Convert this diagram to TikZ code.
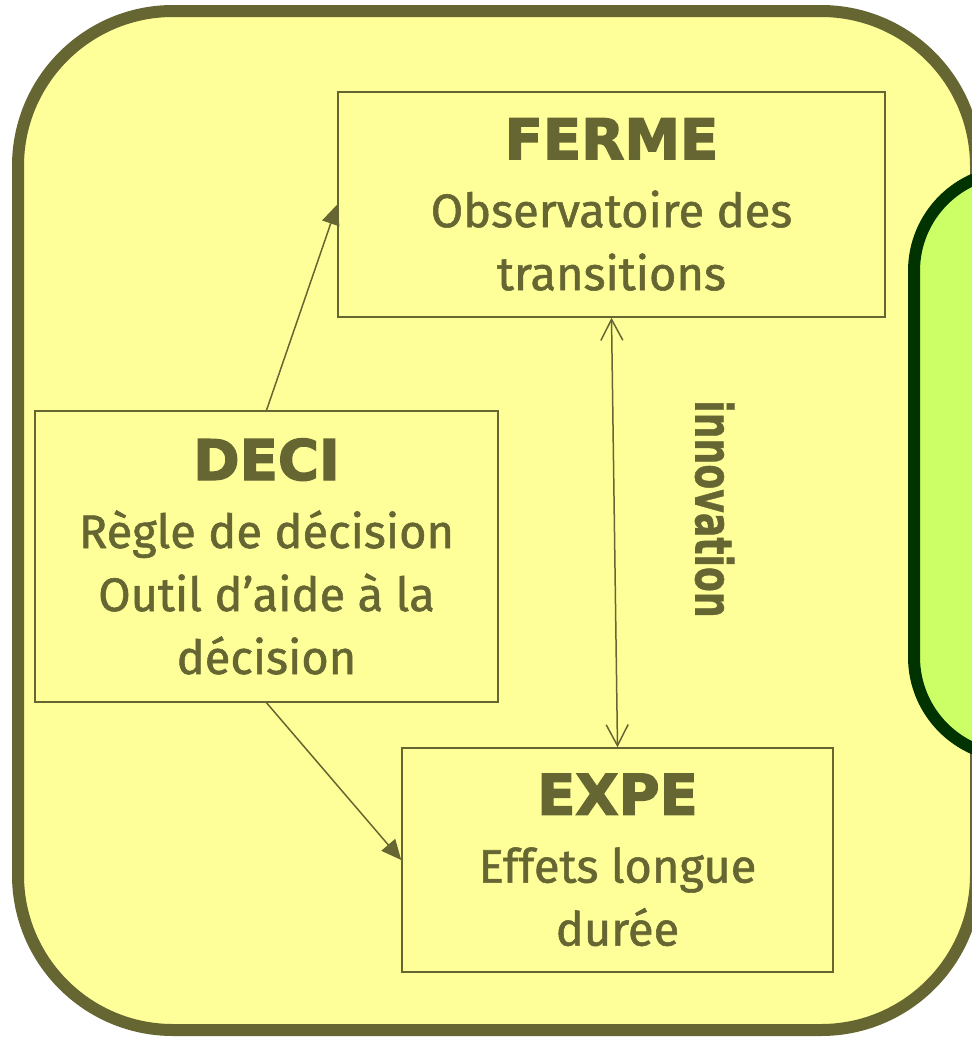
\documentclass[tikz,border=0pt]{standalone}
\usepackage{fontspec}
\setmainfont[FakeBold=1.2]{Fira Sans}
\newfontfamily\titlefont[FakeBold=2.5]{DejaVu Sans}
\newfontfamily\innofont[FakeBold=1]{DejaVu Sans}
\usetikzlibrary{arrows.meta}
\definecolor{yellowbg}{HTML}{FFFF99}
\definecolor{olivec}{HTML}{666633}
\definecolor{greenbg}{HTML}{CCFF66}
\definecolor{dkgreen}{HTML}{003300}
\tikzset{
  box/.style={draw=olivec, line width=1.5pt, fill=yellowbg, align=center, text=olivec,
    inner sep=0pt, font=\fontsize{47}{63}\selectfont},
  conn/.style={draw=olivec, line width=1.5pt},
  filltip/.style={-{Triangle[length=20pt,width=18pt]}},
  opentips/.style={{Straight Barb[length=21pt,width=22pt]}-{Straight Barb[length=21pt,width=22pt]}},
}
\newcommand{\ttl}[1]{{\titlefont\bfseries\fontsize{56}{63}\selectfont #1}}
\begin{document}
\begin{tikzpicture}[x=1pt,y=-1pt]
\useasboundingbox (0,0) rectangle (972,1039);
\begin{scope}
\clip (0,0) rectangle (972,1039);
\draw[draw=olivec, fill=yellowbg, line width=12pt, rounded corners=155pt] (18,11) rectangle (976,1030);
\draw[draw=dkgreen, fill=greenbg, line width=12pt, rounded corners=100pt] (914,171) rectangle (1200,757);
\end{scope}
\node[box, minimum width=547pt, minimum height=225pt] (ferme) at (611.5,204.5)
  {\ttl{FERME}\\[5pt] Observatoire des\\ transitions};
\node[box, minimum width=463pt, minimum height=291pt] (deci) at (266.5,556.5)
  {\ttl{DECI}\\[5pt] Règle de décision\\ Outil d’aide à la\\ décision};
\node[box, minimum width=431pt, minimum height=224pt] (expe) at (617.5,860)
  {\ttl{EXPE}\\[5pt] Effets longue\\ durée};
\node[text=olivec, rotate=-90, inner sep=0pt, font=\innofont\bfseries\fontsize{51}{54}\selectfont] (innov) at (714.5,509)
  {\scalebox{0.71}[1]{innovation}};
\draw[conn, filltip] (deci.north) -- (ferme.west);
\draw[conn, filltip] (deci.south) -- (expe.west);
\draw[conn, opentips] (ferme.south) -- (expe.north);
\end{tikzpicture}
\end{document}
